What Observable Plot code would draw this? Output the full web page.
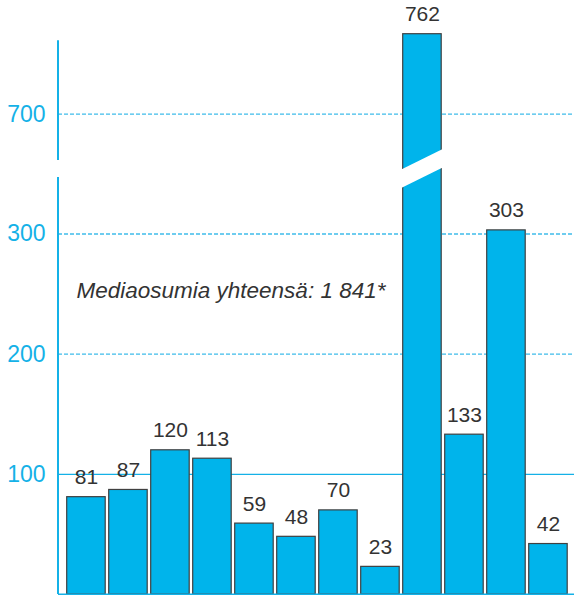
<!DOCTYPE html>
<html>
<head>
<meta charset="utf-8">
<script src="https://cdn.jsdelivr.net/npm/d3@7"></script>
<script src="https://cdn.jsdelivr.net/npm/@observablehq/plot@0.6"></script>
<style>
  html, body { margin: 0; padding: 0; background: #fff; }
  #chart svg { display: block; }
</style>
</head>
<body>
<div id="chart"></div>
<script>
// ---- data ----
const categories = ["1","2","3","4","5","6","7","8","9","10","11","12"];
const values = [81, 87, 120, 113, 59, 48, 70, 23, 762, 133, 303, 42];
const tickValues = [100, 200, 300, 700];
const noteText = "Mediaosumia yhteensä: 1 841*";
const breakCategory = "9";
// broken axis: lower segment 0–347, upper segment 661–757
const axisSegments = [[0, 347], [661, 757]];

// ---- styles ----
const BLUE = "#14b1e7";
const BAR = "#00b4eb";
const GRID = "#3fbcea";
const TEXT = "#333333";

const data = categories.map((c, i) => ({cat: c, value: values[i]}));

function axisLineMark(index, scales, vals, dims) {
  const g = d3.create("svg:g");
  const x = dims.marginLeft;
  for (const [a, b] of axisSegments) {
    g.append("line")
      .attr("x1", x).attr("x2", x)
      .attr("y1", scales.y(a)).attr("y2", scales.y(b))
      .attr("stroke", BLUE).attr("stroke-width", 2);
  }
  return g.node();
}

function breakMark(index, scales, vals, dims) {
  const g = d3.create("svg:g");
  const x0 = scales.x(breakCategory);
  const bw = scales.x.bandwidth ? scales.x.bandwidth() : scales.scales.x.bandwidth;
  const mid = (scales.y(axisSegments[0][1]) + scales.y(axisSegments[1][0])) / 2;
  const drop = 19;
  const band = 18.5;
  const slope = drop / bw;
  const xl = x0 - 2, xr = x0 + bw + 2;
  const yAt = (x) => mid + 0.5 + drop / 2 - (x - x0) * slope;
  const pts = [
    [xl, yAt(xl)], [xr, yAt(xr)], [xr, yAt(xr) + band], [xl, yAt(xl) + band]
  ].map(([x, y]) => [x, y - band / 2 - 0.5]);
  g.append("polygon")
    .attr("points", pts.map(p => p.join(",")).join(" "))
    .attr("fill", "#fff");
  return g.node();
}

const chart = Plot.plot({
  width: 574,
  height: 595,
  marginLeft: 58,
  marginRight: 0,
  marginTop: 0,
  marginBottom: 1,
  style: {fontFamily: "'Liberation Sans', Arial, sans-serif", background: "#fff"},
  x: {
    type: "band",
    domain: categories,
    range: [63.2, 570.7],
    padding: 0.0833,
    round: false,
    axis: null,
    label: null
  },
  y: {
    type: "linear",
    domain: [0, 347, 661, 700, 762],
    range: [594, 177, 160, 113.7, 33.7],
    axis: null,
    label: null
  },
  marks: [
    Plot.ruleY(tickValues.filter(t => t !== 100), {stroke: GRID, strokeWidth: 1.3, strokeDasharray: "4,2"}),
    Plot.ruleY([100], {stroke: BLUE, strokeWidth: 1.2}),
    Plot.barY(data, {x: "cat", y: "value", fill: BAR, stroke: "#404040", strokeWidth: 1.2}),
    breakMark,
    Plot.text(data, {x: "cat", y: "value", text: d => String(d.value), lineAnchor: "bottom", dy: -13,
      fontSize: 21, fill: TEXT}),
    Plot.ruleY([0], {stroke: BLUE, strokeWidth: 2}),
    axisLineMark,
    Plot.axisY(tickValues, {anchor: "left", tickSize: 0, tickPadding: 13, fontSize: 23, fill: BLUE,
      label: null, tickFormat: d => String(d)}),
    Plot.text([noteText], {frameAnchor: "left", lineAnchor: "bottom", textAnchor: "start", dx: 18, dy: 0,
      fontSize: 22.5, fontStyle: "italic", fill: TEXT, text: d => d})
  ]
});
document.getElementById("chart").appendChild(chart);
</script>
</body>
</html>
